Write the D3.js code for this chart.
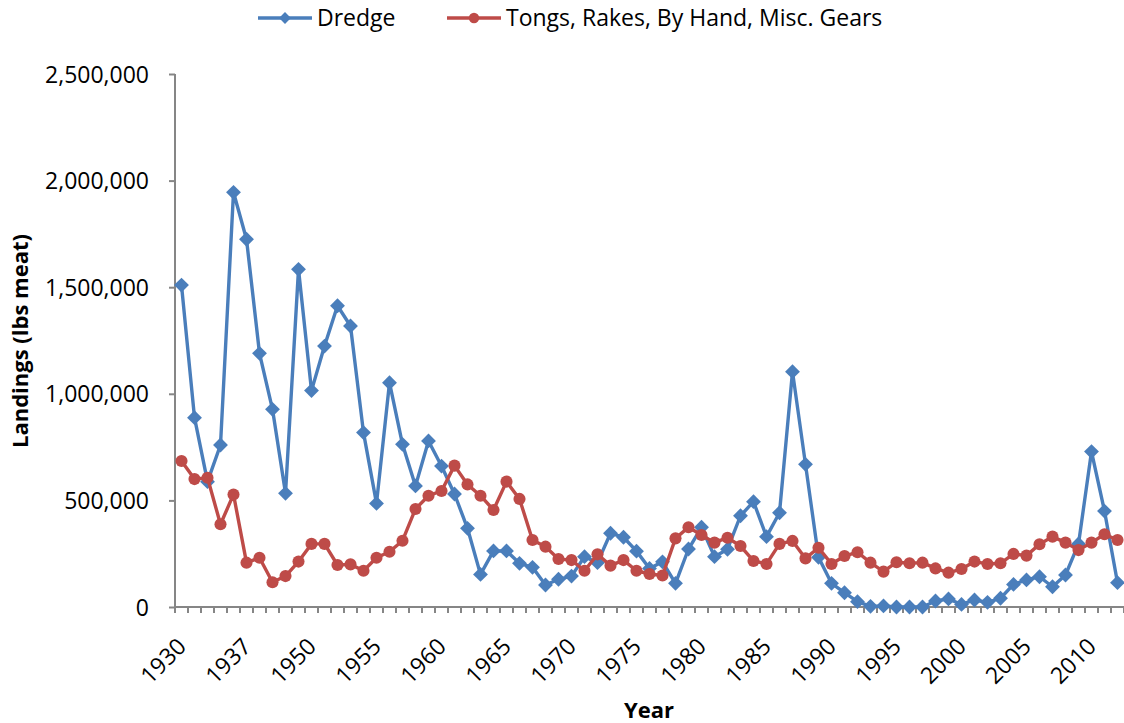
<!DOCTYPE html>
<html>
<head>
<meta charset="utf-8">
<script src="https://cdn.jsdelivr.net/npm/d3@7"></script>
<style>
  html, body { margin: 0; padding: 0; background: #fff; }
  svg text { font-family: "Open Sans", "Liberation Sans", sans-serif; fill: #000; }
</style>
</head>
<body>
<svg id="chart" width="1124" height="723"></svg>
<script>
// Categories (years). Only every 5th is labelled on the axis.
const years = [
  1930, 1931, 1932, 1933, 1935, 1937, 1938, 1939, 1940, 1945,
  1950, 1951, 1952, 1953, 1954, 1955, 1956, 1957, 1958, 1959,
  1960, 1961, 1962, 1963, 1964, 1965, 1966, 1967, 1968, 1969,
  1970, 1971, 1972, 1973, 1974, 1975, 1976, 1977, 1978, 1979,
  1980, 1981, 1982, 1983, 1984, 1985, 1986, 1987, 1988, 1989,
  1990, 1991, 1992, 1993, 1994, 1995, 1996, 1997, 1998, 1999,
  2000, 2001, 2002, 2003, 2004, 2005, 2006, 2007, 2008, 2009,
  2010, 2011, 2012
];

const dredge = [
  1510000, 888000, 588000, 760000, 1945000, 1725000, 1190000, 927000, 533000, 1584000,
  1015000, 1224000, 1413000, 1318000, 818000, 486000, 1052000, 763000, 568000, 779000,
  661000, 530000, 369000, 153000, 263000, 263000, 205000, 186000, 103000, 130000,
  145000, 236000, 208000, 346000, 327000, 262000, 181000, 212000, 111000, 272000,
  374000, 236000, 271000, 428000, 494000, 330000, 442000, 1104000, 669000, 233000,
  111000, 67000, 25000, 3000, 5000, 0, 0, 0, 28000, 38000,
  12000, 33000, 22000, 41000, 106000, 127000, 142000, 95000, 150000, 296000,
  729000, 450000, 114000
];

const tongs = [
  685000, 600000, 606000, 388000, 528000, 208000, 231000, 116000, 145000, 213000,
  296000, 296000, 197000, 200000, 170000, 231000, 259000, 311000, 460000, 522000,
  544000, 663000, 575000, 522000, 455000, 588000, 507000, 314000, 283000, 225000,
  220000, 170000, 247000, 194000, 220000, 170000, 155000, 148000, 322000, 374000,
  338000, 302000, 325000, 286000, 216000, 202000, 296000, 310000, 228000, 278000,
  202000, 239000, 257000, 208000, 166000, 210000, 205000, 208000, 181000, 161000,
  178000, 213000, 202000, 205000, 249000, 241000, 294000, 330000, 302000, 267000,
  302000, 341000, 314000
];

const yTicks = [0, 500000, 1000000, 1500000, 2000000, 2500000];
const seriesNames = ["Dredge", "Tongs, Rakes, By Hand, Misc. Gears"];

const blue = "#4A7EBB", red = "#BE4B48", axisCol = "#868686";

const margin = { top: 74, right: 0, bottom: 116, left: 175 },
      width = 1124 - margin.left - margin.right,
      height = 723 - margin.top - margin.bottom;

const svg = d3.select("#chart");
const g = svg.append("g").attr("transform", `translate(${margin.left},${margin.top})`);

// Escala X (categories)
const x = d3.scaleBand()
  .domain(years.map(String))
  .range([0, width])
  .padding(0);
const cx = i => x(String(years[i])) + x.bandwidth() / 2;

// Escala Y
const y = d3.scaleLinear()
  .domain([0, 2500000])
  .range([height, 0]);

// Y axis
const yAxis = g.append("g")
  .call(d3.axisLeft(y).tickValues(yTicks).tickSize(6).tickPadding(20).tickFormat(d3.format(",")));
yAxis.select(".domain").attr("stroke", axisCol).attr("stroke-width", 2).attr("d", `M0,0V${height + 6}`);
yAxis.selectAll(".tick line").attr("stroke", axisCol).attr("stroke-width", 2);
yAxis.selectAll(".tick text").attr("font-size", "23px").attr("dy", "0.35em");

// X axis line and category tick marks
g.append("line")
  .attr("x1", 0).attr("x2", width)
  .attr("y1", height).attr("y2", height)
  .attr("stroke", axisCol).attr("stroke-width", 2);

const bounds = years.map(d => x(String(d))).concat([width]);
g.append("g").selectAll("line")
  .data(bounds)
  .enter()
  .append("line")
  .attr("x1", d => d).attr("x2", d => d)
  .attr("y1", height).attr("y2", height + 6)
  .attr("stroke", axisCol).attr("stroke-width", 2);

// X labels, every 5th category, rotated
const xAxis = g.append("g")
  .attr("transform", `translate(0,${height})`)
  .call(d3.axisBottom(x).tickValues(years.filter((d, i) => i % 5 === 0).map(String)).tickSize(0));
xAxis.select(".domain").remove();
xAxis.selectAll(".tick text")
  .attr("font-size", "23px")
  .attr("text-anchor", "end")
  .attr("y", 0)
  .attr("dy", 0)
  .attr("transform", "translate(6,41) rotate(-45)");

// Lines
const line = d3.line()
  .x((d, i) => cx(i))
  .y(d => y(d));

function drawSeries(values, color, marker) {
  g.append("path")
    .datum(values)
    .attr("fill", "none")
    .attr("stroke", color)
    .attr("stroke-width", 3.4)
    .attr("stroke-linejoin", "round")
    .attr("d", line);

  const sym = marker === "diamond"
    ? d3.symbol().type(d3.symbolSquare).size(110)
    : d3.symbol().type(d3.symbolCircle).size(115);

  g.append("g").selectAll("path")
    .data(values)
    .enter()
    .append("path")
    .attr("d", sym)
    .attr("transform", (d, i) => `translate(${cx(i)},${y(d)})` + (marker === "diamond" ? " rotate(45)" : ""))
    .attr("fill", color);
}

drawSeries(dredge, blue, "diamond");
drawSeries(tongs, red, "circle");

// Axis titles
svg.append("text")
  .attr("transform", "translate(28,341) rotate(-90)")
  .attr("text-anchor", "middle")
  .attr("font-size", "22px")
  .attr("font-weight", "bold")
  .text("Landings (lbs meat)");

svg.append("text")
  .attr("x", 649)
  .attr("y", 718)
  .attr("text-anchor", "middle")
  .attr("font-size", "22px")
  .attr("font-weight", "bold")
  .text("Year");

// Legend
const legend = svg.append("g");
const legItems = [
  { name: seriesNames[0], color: blue, marker: "diamond", x: 258 },
  { name: seriesNames[1], color: red, marker: "circle", x: 447 }
];
legItems.forEach(it => {
  legend.append("line")
    .attr("x1", it.x).attr("x2", it.x + 54)
    .attr("y1", 18).attr("y2", 18)
    .attr("stroke", it.color).attr("stroke-width", 3.4);
  legend.append("path")
    .attr("d", it.marker === "diamond"
      ? d3.symbol().type(d3.symbolSquare).size(70)()
      : d3.symbol().type(d3.symbolCircle).size(85)())
    .attr("transform", `translate(${it.x + 27},18)` + (it.marker === "diamond" ? " rotate(45)" : ""))
    .attr("fill", it.color);
  legend.append("text")
    .attr("x", it.x + 59)
    .attr("y", 18)
    .attr("dy", "0.35em")
    .attr("font-size", "23px")
    .text(it.name);
});
</script>
</body>
</html>
